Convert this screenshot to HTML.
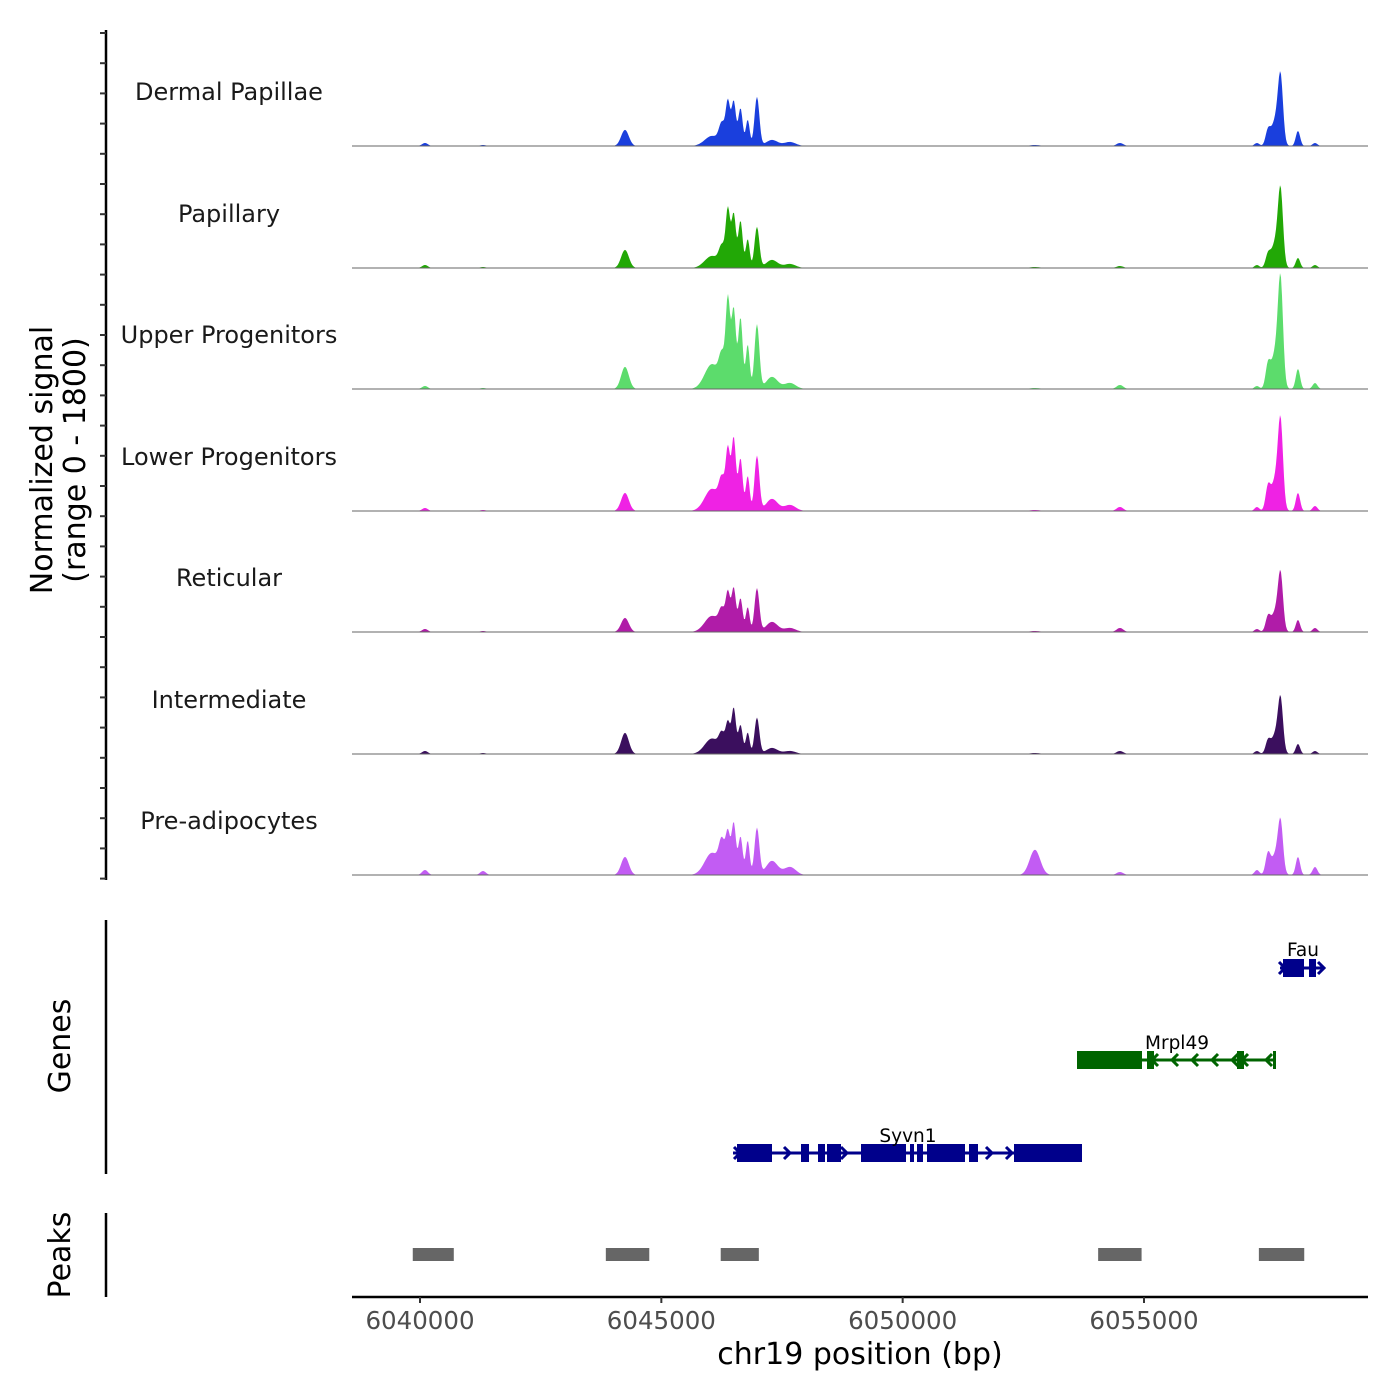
<!DOCTYPE html>
<html><head><meta charset="utf-8"><style>
body{margin:0;background:#fff}
svg{display:block;font-family:"DejaVu Sans","Liberation Sans",sans-serif}
</style></head><body>
<svg id="chart" width="1400" height="1400" viewBox="0 0 1400 1400">
<g id="tracks"></g>
<g id="axes"></g>
<g id="genes"></g>
<g id="peaks"></g>
</svg>
<script>
const trackNames = ["Dermal Papillae","Papillary","Upper Progenitors","Lower Progenitors","Reticular","Intermediate","Pre-adipocytes"];
const trackColors = ["#1a3fdd","#22a806","#5cdc6c","#ef22e4","#b01ca8","#3b0f5e","#c25cf3"];
const peakPos = [6040103,6041305,6044247,6046049,6046256,6046380,6046500,6046640,6046790,6046981,6047292,6047665,6052740,6054501,6057340,6057568,6057740,6057830,6058190,6058543];
const peakWidth = [60,60,80,150,60,45,45,45,40,50,120,120,110,70,50,50,90,50,45,50];
const hDP  = [45,15,240,150,300,640,660,560,390,730,90,60,15,45,45,210,420,850,225,45];
const hPap = [45,15,270,180,280,850,800,700,430,610,120,60,15,30,45,180,420,970,150,45];
const hUp  = [45,15,330,370,420,1300,1180,1060,660,960,180,90,15,60,45,330,600,1350,300,90];
const hLow = [45,15,270,330,400,880,1080,780,520,820,180,90,15,60,60,330,520,1100,270,75];
const hRet = [45,15,210,240,280,560,650,500,370,650,150,60,15,60,45,210,330,720,180,60];
const hInt = [45,15,315,230,250,440,680,430,320,540,90,45,15,45,45,180,320,680,150,45];
const hPre = [75,60,270,330,430,590,770,570,510,700,210,120,375,45,75,300,330,650,270,120];
const trackHeights = [hDP,hPap,hUp,hLow,hRet,hInt,hPre];
const xTicks = [6040000,6045000,6050000,6055000];
const peakRegions = [[6039850,6040700],[6043850,6044750],[6046230,6047020],[6054050,6054950],[6057380,6058320]];
const yMax = 1800;

const NS="http://www.w3.org/2000/svg";
const X0=352,X1=1368,D0=6038591,D1=6059641;
const xs=bp=>X0+(bp-D0)/(D1-D0)*(X1-X0);
const baselines=[146,268,389,511,632,754,875];
const trackH=121;
const ys=(v,b)=>b-v/yMax*trackH;
function mk(tag,attrs,parent){const e=document.createElementNS(NS,tag);for(const k in attrs)e.setAttribute(k,attrs[k]);parent.appendChild(e);return e;}

const tg=document.getElementById('tracks');
trackNames.forEach((name,i)=>{
  const b=baselines[i];
  const g=mk('g',{},tg);
  
  
  let d='M'+X0+','+b;
  for(let x=X0;x<=X1;x+=1){
    const bp=D0+(x-X0)/(X1-X0)*(D1-D0);
    let v=0;
    for(let k=0;k<peakPos.length;k++){const z=(bp-peakPos[k])/peakWidth[k];v+=trackHeights[i][k]*Math.exp(-0.5*z*z);}
    d+=' L'+x+','+ys(v,b).toFixed(2);
  }
  d+=' L'+X1+','+b+' Z';
  const p=mk('path',{d:d,fill:trackColors[i]},g);
  
  
  const l=mk('line',{x1:X0,x2:X1,y1:b,y2:b,stroke:'#666','stroke-width':1},g);
  
  
  const t=mk('text',{x:229,y:b-54+8,'text-anchor':'middle','font-size':24,fill:'#1a1a1a'},g);
  t.textContent=name;
  
  
});

const ax=document.getElementById('axes');
let e=mk('line',{x1:106,x2:106,y1:30,y2:880,stroke:'#000','stroke-width':2.5},ax);

for(let k=0;k<29;k++){const y=33+k*30.2;
  e=mk('line',{x1:100,x2:106,y1:y,y2:y,stroke:'#333','stroke-width':2},ax);
  }
e=mk('text',{transform:'translate(52,460) rotate(-90)','text-anchor':'middle','font-size':30,fill:'#000'},ax);e.textContent='Normalized signal';

e=mk('text',{transform:'translate(85,460) rotate(-90)','text-anchor':'middle','font-size':30,fill:'#000'},ax);e.textContent='(range 0 - 1800)';

e=mk('line',{x1:106,x2:106,y1:920,y2:1174,stroke:'#000','stroke-width':2.5},ax);

e=mk('text',{transform:'translate(70,1046) rotate(-90)','text-anchor':'middle','font-size':30,fill:'#000'},ax);e.textContent='Genes';

e=mk('line',{x1:106,x2:106,y1:1213,y2:1297,stroke:'#000','stroke-width':2.5},ax);

e=mk('text',{transform:'translate(70,1255) rotate(-90)','text-anchor':'middle','font-size':30,fill:'#000'},ax);e.textContent='Peaks';

e=mk('line',{x1:X0,x2:X1,y1:1297,y2:1297,stroke:'#000','stroke-width':2.5},ax);

xTicks.forEach(t=>{const x=xs(t);
  e=mk('line',{x1:x,x2:x,y1:1297,y2:1303,stroke:'#333','stroke-width':2},ax);
  
  e=mk('text',{x:x,y:1329,'text-anchor':'middle','font-size':24.5,fill:'#4d4d4d'},ax);e.textContent=String(t);
  });
e=mk('text',{x:860,y:1364,'text-anchor':'middle','font-size':30,fill:'#000'},ax);e.textContent='chr19 position (bp)';


const gg=document.getElementById('genes');
function gene(name,color,y,x0,x1,exons,arrows,dir,lx,ly){
  const g=mk('g',{},gg);
  
  
  mk('line',{x1:x0,x2:x1,y1:y,y2:y,stroke:color,'stroke-width':3},g);
  exons.forEach(([a,b])=>mk('rect',{x:a,y:y-9,width:b-a,height:18,fill:color},g));
  arrows.forEach(a=>{const s=dir>0?-1:1;mk('polyline',{points:`${a+s*6},${y-6} ${a},${y} ${a+s*6},${y+6}`,fill:'none',stroke:color,'stroke-width':3},g);});
  const t=mk('text',{x:lx,y:ly,'text-anchor':'middle','font-size':18.5,fill:'#000'},g);t.textContent=name;
}
gene('Syvn1','#00008b',1153,733,1082,[[737,772],[801,809],[818,825],[827,841],[861,906],[910,914],[917,923],[927,965],[969,978],[1014,1082]],[740,790,847,992,1012],1,908,1142);
gene('Mrpl49','#006400',1060,1077,1276,[[1077,1142],[1147,1154],[1237,1244],[1273,1276]],[1152,1172,1192,1212,1232,1242,1266],-1,1177,1049);
gene('Fau','#00008b',968,1280,1324,[[1283,1304],[1309,1316]],[1285,1324],1,1303,956);

const pg=document.getElementById('peaks');
peakRegions.forEach(([a,b])=>{const r=mk('rect',{x:xs(a),y:1248,width:xs(b)-xs(a),height:13,fill:'#666'},pg);
  });
</script>
</body></html>
